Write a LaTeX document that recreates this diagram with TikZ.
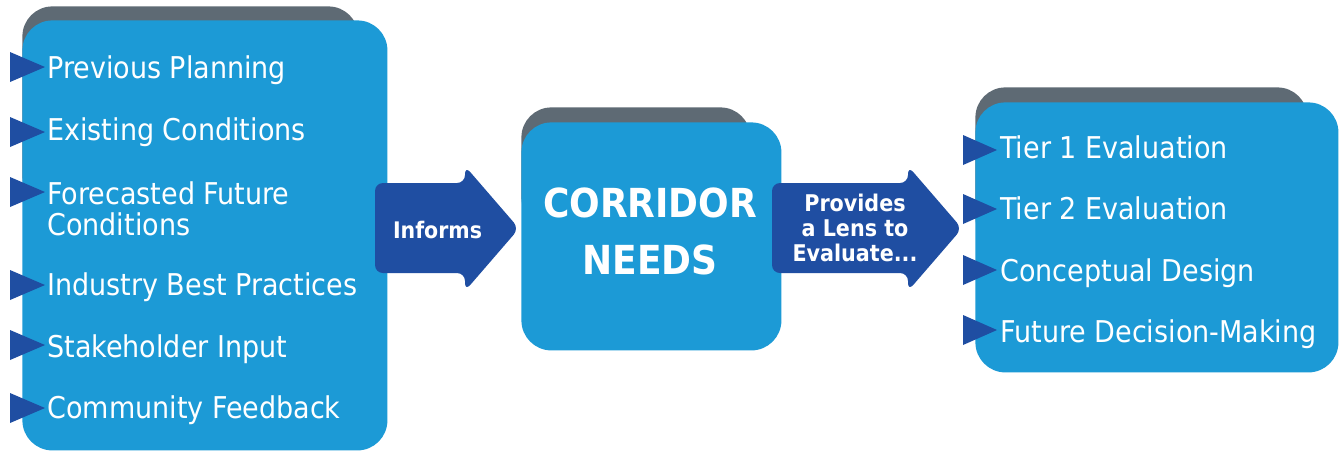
\documentclass[tikz,border=0pt]{standalone}
\usepackage{fontspec}
\setmainfont{DejaVu Sans Condensed}
\definecolor{boxblue}{HTML}{1C9AD6}
\definecolor{backgray}{HTML}{5E6A74}
\definecolor{darkblue}{HTML}{1F4EA2}
\begin{document}
\begin{tikzpicture}[x=0.5pt,y=-0.5pt,
  backbox/.style={fill=backgray, rounded corners=15pt, inner sep=0, anchor=north west},
  frontbox/.style={fill=boxblue, rounded corners=15pt, inner sep=0, anchor=north west},
  item/.style={text=white, inner sep=0, anchor=base west, align=left, font=\fontsize{15pt}{15.5pt}\selectfont},
  bullet/.style={fill=darkblue},
  bigarrow/.style={fill=darkblue, rounded corners=4pt},
  arrowtext/.style={text=white, inner sep=0, font=\bfseries\fontsize{11.5pt}{12.5pt}\selectfont, align=center}]
\useasboundingbox (0,0) rectangle (1343,452);
\fill[white] (0,0) rectangle (1343,452);

% left box
\node[backbox, minimum width=168pt, minimum height=100pt] (inback) at (22,6) {};
\node[frontbox, minimum width=182.5pt, minimum height=215pt] (inputs) at (22,20) {};
\foreach \y in {67,132,192,285,345,408}{
  \fill[bullet] (10,\y-15) -- (45,\y) -- (10,\y+15) -- cycle;}
\node[item] (i1) at (47,78.5) {Previous Planning};
\node[item] (i2) at (47,140.5) {Existing Conditions};
\node[item, anchor=north west] (i3) at (47,181) {Forecasted Future\\Conditions};
\node[item] (i4) at (47,295) {Industry Best Practices};
\node[item] (i5) at (47,357) {Stakeholder Input};
\node[item] (i6) at (47,418.5) {Community Feedback};

% informs arrow
\fill[bigarrow] (375,183) -- (465,183) -- (465,166) -- (519,228.5) -- (465,291) -- (465,273) -- (375,273) -- cycle;
\node[arrowtext, anchor=base, font=\bfseries\fontsize{11.4pt}{12pt}\selectfont] (informs) at (437.5,238) {Informs};

% corridor needs
\node[backbox, minimum width=114.5pt, minimum height=60pt] (cnback) at (521,107) {};
\node[frontbox, minimum width=130pt, minimum height=114pt] (needs) at (521,122) {};
\node[text=white, inner sep=0, align=center, font=\bfseries\fontsize{20pt}{28.5pt}\selectfont] (needstext) at (650,231.5) {CORRIDOR\\NEEDS};

% provides arrow
\fill[bigarrow] (772,183) -- (908,183) -- (908,166) -- (962,228.5) -- (908,291) -- (908,273) -- (772,273) -- cycle;
\node[arrowtext] (provides) at (855,228) {Provides\\a Lens to\\Evaluate...};

% right box
\node[backbox, minimum width=166pt, minimum height=80pt] (outback) at (975,87) {};
\node[frontbox, minimum width=181.5pt, minimum height=135pt] (outputs) at (975,102) {};
\foreach \y in {150,209,270,330}{
  \fill[bullet] (963,\y-15) -- (997,\y) -- (963,\y+15) -- cycle;}
\node[item] (o1) at (1000,158.5) {Tier 1 Evaluation};
\node[item] (o2) at (1000,219.5) {Tier 2 Evaluation};
\node[item] (o3) at (1000,281) {Conceptual Design};
\node[item] (o4) at (1000,342) {Future Decision-Making};
\end{tikzpicture}
\end{document}
